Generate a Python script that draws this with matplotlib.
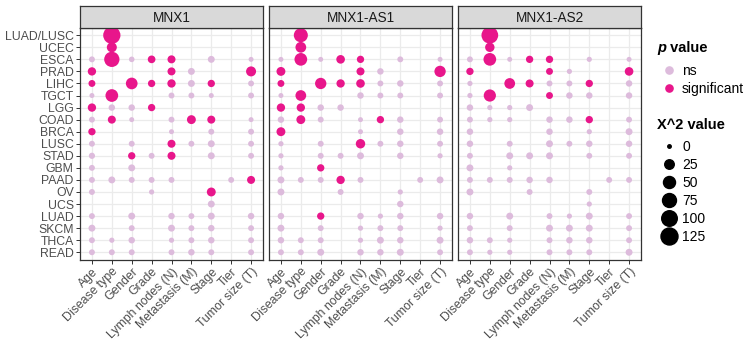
import numpy as np
import matplotlib
matplotlib.use("Agg")
import matplotlib.pyplot as plt
from matplotlib.lines import Line2D

plt.rcParams['font.family'] = ['Liberation Sans', 'DejaVu Sans']

N = np.nan

genes = ["MNX1", "MNX1-AS1", "MNX1-AS2"]
cancers = ["LUAD/LUSC", "UCEC", "ESCA", "PRAD", "LIHC", "TGCT", "LGG", "COAD",
           "BRCA", "LUSC", "STAD", "GBM", "PAAD", "OV", "UCS", "LUAD", "SKCM",
           "THCA", "READ"]
factors = ["Age", "Disease type", "Gender", "Grade", "Lymph nodes (N)",
           "Metastasis (M)", "Stage", "Tier", "Tumor size (T)"]

# chi-square per cancer (rows) and clinical factor (columns), NaN = not tested
mnx1_chi2 = [
    [N, 130, N, N, N, N, N, N, N],
    [N, 29, N, N, N, N, N, N, N],
    [4, 95, 3, 12, 14, N, 8, N, 1.5],
    [16, N, N, N, 14, 8, N, N, 29],
    [8, N, 46, 10, 16, 8, 10, N, 4],
    [1.5, 58, N, N, 4, 4, 1.5, N, 4],
    [16, 6, 6, 10, N, N, N, N, N],
    [4, 14, 1.5, N, 4, 20, 14, N, 1.5],
    [10, N, N, N, 1.5, N, 4, N, 4],
    [4, N, 4, N, 14, 4, 8, N, 4],
    [5, N, 10, 4, 14, N, 8, N, 4],
    [4, N, 8, N, N, N, N, N, N],
    [4, 8, 4, 4, 4, N, N, 4, 14],
    [4, N, N, 2, N, N, 20, N, N],
    [N, N, N, N, N, N, 8, N, N],
    [4, N, 8, N, 6, 4, 8, N, 6],
    [8, N, 4, N, 8, 4, 6, N, 4],
    [4, 2, 6, N, 2, 4, 6, N, 4],
    [4, 4, 4, N, 4, 6, 4, N, 4],
]
mnx1_sig = [
    [0, 1, 0, 0, 0, 0, 0, 0, 0],
    [0, 1, 0, 0, 0, 0, 0, 0, 0],
    [0, 1, 0, 1, 1, 0, 0, 0, 0],
    [1, 0, 0, 0, 1, 0, 0, 0, 1],
    [1, 0, 1, 1, 1, 0, 1, 0, 0],
    [0, 1, 0, 0, 0, 0, 0, 0, 0],
    [1, 0, 0, 1, 0, 0, 0, 0, 0],
    [0, 1, 0, 0, 0, 1, 1, 0, 0],
    [1, 0, 0, 0, 0, 0, 0, 0, 0],
    [0, 0, 0, 0, 1, 0, 0, 0, 0],
    [0, 0, 1, 0, 1, 0, 0, 0, 0],
    [0, 0, 0, 0, 0, 0, 0, 0, 0],
    [0, 0, 0, 0, 0, 0, 0, 0, 1],
    [0, 0, 0, 0, 0, 0, 1, 0, 0],
    [0, 0, 0, 0, 0, 0, 0, 0, 0],
    [0, 0, 0, 0, 0, 0, 0, 0, 0],
    [0, 0, 0, 0, 0, 0, 0, 0, 0],
    [0, 0, 0, 0, 0, 0, 0, 0, 0],
    [0, 0, 0, 0, 0, 0, 0, 0, 0],
]

as1_chi2 = [
    [N, 76, N, N, N, N, N, N, N],
    [N, 36, N, N, N, N, N, N, N],
    [1.5, 58, 1.5, 18, 10, N, 4, N, 1.5],
    [20, N, N, N, 14, 6, N, N, 42],
    [8, N, 42, 16, 18, 4, 6, N, 4],
    [1.5, 36, N, N, 6, 4, 4, N, 4],
    [16, 16, 6, 6, N, N, N, N, N],
    [6, 20, 4, N, 1.5, 10, 6, N, 4],
    [20, N, N, N, 1.5, N, 6, N, 6],
    [2, N, 4, N, 24, 4, 6, N, 4],
    [2, N, 4, 4, 8, N, 6, N, 2],
    [2, N, 10, N, N, N, N, N, N],
    [8, 4, 4, 16, 4, N, N, 4, 8],
    [8, N, N, 4, N, N, 2, N, N],
    [N, N, N, N, N, N, 6, N, N],
    [6, N, 10, N, 6, 2, 6, N, 6],
    [8, N, 4, N, 2, 4, 4, N, 2],
    [6, 4, 4, N, 2, 8, 6, N, 8],
    [4, 4, 8, N, 6, 6, 8, N, 4],
]
as1_sig = [
    [0, 1, 0, 0, 0, 0, 0, 0, 0],
    [0, 1, 0, 0, 0, 0, 0, 0, 0],
    [0, 1, 0, 1, 1, 0, 0, 0, 0],
    [1, 0, 0, 0, 1, 0, 0, 0, 1],
    [1, 0, 1, 1, 1, 0, 0, 0, 0],
    [0, 1, 0, 0, 0, 0, 0, 0, 0],
    [1, 1, 0, 0, 0, 0, 0, 0, 0],
    [0, 1, 0, 0, 0, 1, 0, 0, 0],
    [1, 0, 0, 0, 0, 0, 0, 0, 0],
    [0, 0, 0, 0, 1, 0, 0, 0, 0],
    [0, 0, 0, 0, 0, 0, 0, 0, 0],
    [0, 0, 1, 0, 0, 0, 0, 0, 0],
    [0, 0, 0, 1, 0, 0, 0, 0, 0],
    [0, 0, 0, 0, 0, 0, 0, 0, 0],
    [0, 0, 0, 0, 0, 0, 0, 0, 0],
    [0, 0, 1, 0, 0, 0, 0, 0, 0],
    [0, 0, 0, 0, 0, 0, 0, 0, 0],
    [0, 0, 0, 0, 0, 0, 0, 0, 0],
    [0, 0, 0, 0, 0, 0, 0, 0, 0],
]

as2_chi2 = [
    [N, 120, N, N, N, N, N, N, N],
    [N, 24, N, N, N, N, N, N, N],
    [4, 58, 1.5, 10, 10, N, 2, N, 1.5],
    [10, N, N, N, 8, 2, N, N, 18],
    [2, N, 36, 14, 4, 4, 10, N, 6],
    [2, 52, N, N, 8, 6, 6, N, 6],
    [6, 2, 2, 8, N, N, N, N, N],
    [4, 2, 2, N, 6, 6, 10, N, 4],
    [6, N, N, N, 6, N, 2, N, 8],
    [6, N, 4, N, 8, 4, 6, N, 6],
    [4, N, 8, 8, 8, N, 4, N, 4],
    [8, N, 2, N, N, N, N, N, N],
    [4, 4, 4, 6, 6, N, N, 4, 4],
    [8, N, N, 4, N, N, 4, N, N],
    [N, N, N, N, N, N, 2, N, N],
    [6, N, 8, N, 4, 2, 8, N, 4],
    [4, N, 4, N, 8, 8, 8, N, 4],
    [6, 4, 2, N, 4, 6, 6, N, 4],
    [4, 2, 2, N, 4, 4, 4, N, 8],
]
as2_sig = [
    [0, 1, 0, 0, 0, 0, 0, 0, 0],
    [0, 1, 0, 0, 0, 0, 0, 0, 0],
    [0, 1, 0, 1, 1, 0, 0, 0, 0],
    [1, 0, 0, 0, 1, 0, 0, 0, 1],
    [0, 0, 1, 1, 0, 0, 1, 0, 0],
    [0, 1, 0, 0, 1, 0, 0, 0, 0],
    [0, 0, 0, 0, 0, 0, 0, 0, 0],
    [0, 0, 0, 0, 0, 0, 1, 0, 0],
    [0, 0, 0, 0, 0, 0, 0, 0, 0],
    [0, 0, 0, 0, 0, 0, 0, 0, 0],
    [0, 0, 0, 0, 0, 0, 0, 0, 0],
    [0, 0, 0, 0, 0, 0, 0, 0, 0],
    [0, 0, 0, 0, 0, 0, 0, 0, 0],
    [0, 0, 0, 0, 0, 0, 0, 0, 0],
    [0, 0, 0, 0, 0, 0, 0, 0, 0],
    [0, 0, 0, 0, 0, 0, 0, 0, 0],
    [0, 0, 0, 0, 0, 0, 0, 0, 0],
    [0, 0, 0, 0, 0, 0, 0, 0, 0],
    [0, 0, 0, 0, 0, 0, 0, 0, 0],
]

size_breaks = [0, 25, 50, 75, 100, 125]

chi2_data = [mnx1_chi2, as1_chi2, as2_chi2]
sig_data = [mnx1_sig, as1_sig, as2_sig]

col_sig = "#E8168B"
col_ns = "#DDBBDC"
dark = "#333333"
W, H = 751, 340


def diam_pt(v):
    # area scale like ggplot's scale_size: diameter grows with sqrt(value)
    return (3.5 + 13.5 * np.sqrt(np.asarray(v, dtype=float) / 125)) / 1.389


def px_axes(left, top, width, height):
    return fig.add_axes([left / W, 1 - (top + height) / H, width / W, height / H])


fig = plt.figure(figsize=(W / 100, H / 100), dpi=100)

panel_left = [80, 269, 458]
panel_w = 183
panel_top, panel_h = 28, 231.5

for k, gene in enumerate(genes):
    ax = px_axes(panel_left[k], panel_top, panel_w, panel_h)
    chi2 = np.array(chi2_data[k], dtype=float)
    sig = np.array(sig_data[k], dtype=bool)
    yy, xx = np.nonzero(~np.isnan(chi2))
    vals = chi2[yy, xx]
    is_sig = sig[yy, xx]
    for flag, col in [(False, col_ns), (True, col_sig)]:
        m = is_sig == flag
        ax.scatter(xx[m], yy[m], s=diam_pt(vals[m]) ** 2, c=col,
                   linewidths=0, zorder=3)

    ax.set_xlim(-0.6, len(factors) - 0.4)
    ax.set_ylim(len(cancers) - 0.4, -0.6)
    ax.set_axisbelow(True)
    ax.grid(True, color="#EBEBEB", lw=0.9)
    for sp in ax.spines.values():
        sp.set_color(dark)
        sp.set_linewidth(0.9)
    ax.tick_params(length=3, width=0.7, color=dark, labelcolor="#4D4D4D",
                   labelsize=8.8, pad=1.5)
    ax.set_xticks(range(len(factors)))
    ax.set_xticklabels(factors, rotation=45, ha="right", va="top",
                       rotation_mode="anchor")
    ax.set_yticks(range(len(cancers)))
    if k == 0:
        ax.set_yticklabels(cancers)
    else:
        ax.set_yticklabels([])
        ax.tick_params(axis="y", length=0)

    # facet strip
    sax = px_axes(panel_left[k], 5.7, panel_w, panel_top - 5.7)
    sax.set_facecolor("#D9D9D9")
    sax.set_xticks([])
    sax.set_yticks([])
    for sp in sax.spines.values():
        sp.set_color(dark)
        sp.set_linewidth(0.9)
    sax.text(0.5, 0.45, gene, ha="center", va="center", fontsize=9.8,
             color="#1A1A1A", transform=sax.transAxes)

# p value legend
t1 = fig.text(657 / W, 1 - 55 / H, "p", fontsize=10.5, fontweight="bold",
              fontstyle="italic", va="bottom", ha="left")
plt.annotate(" value", xy=(1, 0), xycoords=t1, fontsize=10.5,
             fontweight="bold", va="bottom", ha="left")

p_handles = [Line2D([], [], ls="", marker="o", ms=7.2 / 1.389, mfc=c, mec=c)
             for c in (col_ns, col_sig)]
fig.legend(p_handles, ["ns", "significant"], loc="upper left",
           bbox_to_anchor=(662 / W, 1 - 64 / H), frameon=False, fontsize=10,
           handlelength=1.0, handletextpad=0.45, labelspacing=0.3,
           borderpad=0, borderaxespad=0)

fig.text(657 / W, 1 - 125 / H, "X^2 value", fontsize=10.5, fontweight="bold",
         va="center", ha="left")
s_handles = [Line2D([], [], ls="", marker="o", ms=float(diam_pt(b)),
                    mfc="black", mec="black") for b in size_breaks]
fig.legend(s_handles, [str(b) for b in size_breaks], loc="upper left",
           bbox_to_anchor=(662 / W, 1 - 140 / H), frameon=False, fontsize=10,
           handlelength=1.0, handletextpad=0.45, labelspacing=0.29,
           borderpad=0, borderaxespad=0)

fig.savefig("out.png", dpi=100)
